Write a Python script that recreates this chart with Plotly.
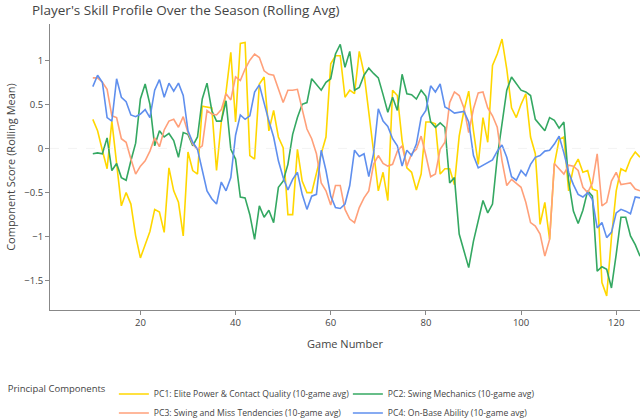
import plotly.graph_objects as go

games = list(range(10, 126))

pc1 = [0.33, 0.20, -0.02, -0.23, 0.31, -0.20, -0.65, -0.50, -0.63, -0.99,
       -1.24, -1.09, -0.94, -0.69, -0.72, -0.95, -0.22, -0.48, -0.61, -0.99,
       -0.04, -0.25, -0.29, 0.48, 0.47, 0.46, -0.25, 0.30, 0.64, 1.09,
       0.30, 1.19, 1.20, -0.08, -0.12, 0.73, 0.81, 0.20, 0.43, 0.13,
       0.01, -0.75, -0.75, -0.01, -0.37, -0.50, -0.50, -0.27, -0.06, 0.13,
       0.96, 1.05, 1.05, 0.58, 0.66, 0.62, 1.10, 0.85, 0.43, -0.03,
       -0.48, -0.27, -0.59, 0.66, 0.60, 0.09, -0.22, -0.27, -0.47, -0.29,
       0.30, 0.30, 0.28, -0.29, -0.23, -0.23, -0.41, 0.14, 0.43, 0.65,
       0.20, -0.18, 0.35, 0.07, 0.94, 1.07, 1.24, 0.90, 0.46, 0.35,
       0.50, 0.62, 0.13, -0.06, -0.86, -0.61, -1.03, -0.18, 0.10, 0.13,
       -0.48, -0.22, -0.12, -0.27, -0.25, -0.46, -0.48, -1.52, -1.67, -1.01,
       -0.48, -0.23, -0.26, -0.12, -0.04, -0.10]

pc2 = [-0.06, -0.05, -0.06, 0.12, -0.25, -0.17, -0.33, -0.36, -0.14, 0.06,
       0.56, 0.73, 0.50, 0.03, 0.20, 0.13, 0.17, 0.09, -0.10, 0.18,
       0.16, 0.03, 0.13, 0.56, 0.74, 0.43, 0.31, 0.31, 0.54, -0.01,
       -0.12, -0.55, -0.56, -0.75, -1.03, -0.65, -0.78, -0.70, -0.84, -0.44,
       -0.37, -0.18, 0.16, 0.35, 0.50, 0.52, 0.79, 0.73, 0.66, 0.75,
       0.79, 1.07, 1.18, 0.92, 1.10, 0.66, 0.69, 0.83, 0.91, 0.85,
       0.80, 0.61, 0.41, 0.58, 0.43, 0.84, 0.62, 0.61, 0.56, 0.66,
       0.59, 0.30, 0.24, 0.29, 0.24, -0.39, -0.33, -0.97, -1.16, -1.35,
       -1.05, -0.82, -0.59, -0.73, -0.63, -0.10, 0.30, 0.66, 0.81, 0.73,
       0.66, 0.64, 0.60, 0.33, 0.26, 0.20, 0.35, 0.32, 0.23, 0.30,
       -0.37, -0.71, -0.85, -0.70, -0.48, -0.54, -1.39, -1.34, -1.37, -1.58,
       -1.20, -0.78, -0.78, -0.99, -1.09, -1.22]

pc3 = [0.80, 0.80, 0.75, 0.67, 0.37, 0.35, 0.11, 0.07, -0.12, -0.29,
       -0.20, -0.14, -0.03, 0.12, 0.02, 0.21, 0.31, 0.33, 0.24, 0.36,
       0.18, 0.05, -0.01, 0.03, 0.43, 0.39, 0.38, 0.44, 0.62, 0.55,
       0.81, 0.77, 0.90, 1.00, 1.07, 1.03, 0.88, 0.84, 0.83, 0.67,
       0.52, 0.66, 0.66, 0.67, 0.43, 0.22, 0.11, -0.06, -0.39, -0.48,
       -0.64, -0.42, -0.42, -0.69, -0.80, -0.84, -0.67, -0.56, -0.48, -0.18,
       -0.08, -0.17, -0.20, -0.18, -0.03, 0.03, -0.20, -0.06, -0.01, 0.14,
       -0.08, -0.32, -0.29, -0.01, 0.07, 0.52, 0.64, 0.60, 0.46, 0.18,
       0.45, 0.63, 0.64, 0.46, 0.37, 0.24, -0.14, -0.42, -0.35, -0.39,
       -0.44, -0.61, -0.84, -0.88, -0.97, -1.22, -1.03, -0.17, -0.23, -0.29,
       -0.19, -0.20, -0.25, -0.44, -0.50, -0.39, -0.06, -0.65, -0.61, -0.37,
       -0.27, -0.41, -0.40, -0.39, -0.46, -0.48]

pc4 = [0.70, 0.83, 0.75, 0.35, 0.31, 0.79, 0.58, 0.53, 0.38, 0.36,
       0.39, 0.44, 0.35, 0.66, 0.78, 0.58, 0.74, 0.65, 0.74, 0.60,
       0.20, 0.07, -0.01, -0.25, -0.48, -0.57, -0.63, -0.38, -0.48, -0.33,
       0.15, 0.38, 0.33, 0.37, 0.64, 0.72, 0.50, 0.31, 0.13, -0.14,
       -0.33, -0.47, -0.35, -0.27, -0.52, -0.69, -0.54, -0.52, -0.02, -0.25,
       -0.54, -0.67, -0.68, -0.63, -0.42, -0.02, -0.09, -0.06, -0.32, -0.06,
       0.45, 0.31, 0.25, 0.11, 0.03, -0.20, -0.02, -0.08, 0.05, 0.35,
       0.43, 0.71, 0.64, 0.73, 0.47, 0.44, 0.40, 0.41, 0.42, 0.30,
       -0.08, -0.22, -0.19, -0.16, -0.13, -0.03, 0.04, -0.10, -0.32, -0.36,
       -0.25, -0.31, -0.18, -0.10, -0.08, -0.03, -0.02, 0.05, 0.14, -0.05,
       -0.27, -0.41, -0.52, -0.55, -0.50, -0.58, -0.90, -0.84, -1.01, -0.95,
       -0.73, -0.69, -0.71, -0.74, -0.55, -0.56]

names = ["PC1: Elite Power & Contact Quality (10-game avg)",
         "PC2: Swing Mechanics (10-game avg)",
         "PC3: Swing and Miss Tendencies (10-game avg)",
         "PC4: On-Base Ability (10-game avg)"]
colors = ["#FFD700", "#34A862", "#FFA07A", "#5F8FEE"]
series = [pc1, pc2, pc3, pc4]

fig = go.Figure()
for nm, col, vals in zip(names, colors, series):
    fig.add_trace(go.Scatter(x=games, y=vals, mode="lines", name=nm,
                             line=dict(color=col, width=1.6)))

fig.add_hline(y=0, line_dash="dash", line_color="#DDDDDD", line_width=1)

axis_common = dict(showline=True, linecolor="#888888", linewidth=1,
                   ticks="outside", tickcolor="#888888", ticklen=4,
                   showgrid=False, zeroline=False, automargin=False,
                   tickfont=dict(color="#444444", size=9.5))

fig.update_layout(
    template="simple_white",
    width=640, height=420,
    font=dict(family="Open Sans, Arial, sans-serif", color="#444444", size=10),
    title=dict(text="Player's Skill Profile Over the Season (Rolling Avg)",
               x=0.05, xanchor="left", y=0.976, yanchor="middle",
               font=dict(size=13.5, color="#444444")),
    margin=dict(l=50, r=0, t=24, b=110, autoexpand=False),
    xaxis=dict(title=dict(text="Game Number", font=dict(size=11), standoff=11),
               range=[1, 125], tickvals=[20, 40, 60, 80, 100, 120], **axis_common),
    yaxis=dict(title=dict(text="Component Score (Rolling Mean)", font=dict(size=11), standoff=6),
               range=[-1.83, 1.41], tickvals=[-1.5, -1, -0.5, 0, 0.5, 1], **axis_common),
    legend=dict(orientation="h", x=-0.075, xanchor="left", y=-0.243, yanchor="top",
                title=dict(text="Principal Components", font=dict(size=9.5)),
                font=dict(size=8.6), tracegroupgap=0, entrywidth=189, entrywidthmode="pixels"),
    plot_bgcolor="white", paper_bgcolor="white",
)

fig.write_html("out.html", config={"displayModeBar": False},
               post_script="document.body.style.margin='0px';")
